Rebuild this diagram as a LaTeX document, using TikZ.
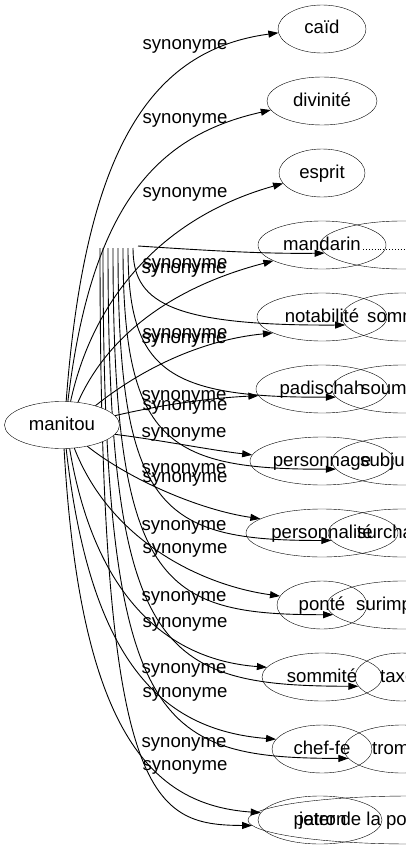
\documentclass[tikz,border=0pt]{standalone}
\usepackage{fontspec}
\setmainfont{Liberation Sans}
\usetikzlibrary{arrows.meta,shapes.geometric}
\begin{document}
\begin{tikzpicture}[x=1pt, y=-1pt, >={Triangle[length=10pt, width=7pt]},
    word/.style={draw, ellipse, minimum height=48pt, inner sep=0pt, text height=13pt, text depth=3pt, font=\fontsize{18.6}{20}\selectfont},
    lbl/.style={inner sep=0pt, text height=13pt, text depth=3pt, font=\fontsize{18.6}{20}\selectfont},
    link/.style={->, line width=0.9pt}]
    \useasboundingbox (0,0) rectangle (406,851);
    \clip (0,0) rectangle (406,851);
    \coordinate (f0) at (138,246);
    \coordinate (f1) at (133,248);
    \coordinate (f2) at (128,248);
    \coordinate (f3) at (123,248);
    \coordinate (f4) at (118,248);
    \coordinate (f5) at (113,248);
    \coordinate (f6) at (108,248);
    \coordinate (f7) at (103,248);
    \coordinate (f8) at (100,248);
    \node[word, minimum width=164pt] (b0) at (402,245) {};
    \node[word, minimum width=120pt] (b1) at (402,317) {};
    \node[word, minimum width=140pt] (b2) at (402,389) {};
    \node[word, minimum width=140pt] (b3) at (402,461) {};
    \node[word, minimum width=148pt] (b4) at (402,533) {};
    \node[word, minimum width=150pt] (b5) at (402,605) {};
    \node[word, minimum width=94pt] (b6) at (402,677) {};
    \node[word, minimum width=116pt] (b7) at (402,749) {};
    \node[word, minimum width=324pt] (b8) at (410,820) {};
    \draw[dotted, line width=0.9pt] (363,249) -- (406,249);
    \node[lbl, anchor=west] (t1) at (367,317) {somm};
    \node[lbl, anchor=west] (t2) at (361,389) {soum};
    \node[lbl, anchor=west] (t3) at (360,461) {subju};
    \node[lbl, anchor=west] (t4) at (357,533) {surcha};
    \node[lbl, anchor=west] (t5) at (356,605) {surimp};
    \node[lbl, anchor=west] (t6) at (380,677) {taxe};
    \node[lbl, anchor=west] (t7) at (372,749) {tromp};
    \node[lbl, anchor=west] (t8) at (299,820) {jeter de la po};
    \draw[link] (f0) .. controls (200,250) and (260,254) .. (b0.186);
    \draw[link] (f1) .. controls (133,300) and (165,326) .. (b1.188);
    \draw[link] (f2) .. controls (128,370) and (165,398) .. (b2.187);
    \draw[link] (f3) .. controls (123,440) and (165,470) .. (b3.187);
    \draw[link] (f4) .. controls (118,510) and (160,541) .. (b4.186);
    \draw[link] (f5) .. controls (113,585) and (160,615) .. (b5.188);
    \draw[link] (f6) .. controls (108,655) and (160,686) .. (b6.192);
    \draw[link] (f7) .. controls (103,728) and (155,758) .. (b7.190);
    \draw[link] (f8) .. controls (100,800) and (150,825) .. (b8.182);
    \node[word, fill=white, minimum width=115pt, minimum height=47pt] (man) at (62,425) {manitou};
    \node[word, minimum width=88pt] (caid) at (322,29) {caïd};
    \node[word, minimum width=110pt] (divin) at (322,101) {divinité};
    \node[word, minimum width=86pt] (esprit) at (322,173) {esprit};
    \node[word, minimum width=128pt] (mand) at (322,245) {mandarin};
    \node[word, minimum width=130pt] (notab) at (322,317) {notabilité};
    \node[word, minimum width=132pt] (padis) at (322,389) {padischah};
    \node[word, minimum width=144pt] (pnage) at (322,461) {personnage};
    \node[word, minimum width=152pt] (pnalite) at (322,533) {personnalité};
    \node[word, minimum width=90pt] (ponte) at (322,605) {ponté};
    \node[word, minimum width=120pt] (sommite) at (322,677) {sommité};
    \node[word, minimum width=100pt] (chef) at (322,749) {chef-fe};
    \node[word, minimum width=124pt] (patron) at (320,820) {patron};
    \draw[link] (man.80) .. controls (85,150) and (150,50) .. (caid.185);
    \draw[link] (man.76) .. controls (92,200) and (160,135) .. (divin.190);
    \draw[link] (man.70) .. controls (95,290) and (170,215) .. (esprit.195);
    \draw[link] (man.55) .. controls (110,330) and (180,285) .. (mand.198);
    \draw[link] (man.30) .. controls (140,370) and (200,340) .. (notab.198);
    \draw[link] (man.10) .. controls (160,405) and (210,398) .. (padis.186);
    \draw[link] (man.-10) .. controls (160,440) and (210,450) .. (pnage.175);
    \draw[link] (man.-40) .. controls (130,480) and (200,510) .. (pnalite.167);
    \draw[link] (man.-62) .. controls (110,540) and (200,585) .. (ponte.168);
    \draw[link] (man.-72) .. controls (95,600) and (170,660) .. (sommite.170);
    \draw[link] (man.-80) .. controls (90,660) and (160,730) .. (chef.168);
    \draw[link] (man.-85) .. controls (80,730) and (150,805) .. (patron.173);
    \node[lbl] (sa1) at (185,44) {synonyme};
    \node[lbl] (sa2) at (185,118) {synonyme};
    \node[lbl] (sa3) at (185,192) {synonyme};
    \node[lbl] (sa4) at (185,263) {synonyme};
    \node[lbl] (sa5) at (185,333) {synonyme};
    \node[lbl] (sa6) at (185,405) {synonyme};
    \node[lbl] (sa7) at (185,477) {synonyme};
    \node[lbl] (sa8) at (185,548) {synonyme};
    \node[lbl] (sa9) at (185,622) {synonyme};
    \node[lbl] (sa10) at (185,692) {synonyme};
    \node[lbl] (sa11) at (185,765) {synonyme};
    \node[lbl] (sb0) at (184,268) {synonyme};
    \node[lbl] (sb1) at (184,338) {synonyme};
    \node[lbl] (sb2) at (184,395) {synonyme};
    \node[lbl] (sb3) at (184,432) {synonyme};
    \node[lbl] (sb4) at (184,468) {synonyme};
    \node[lbl] (sb5) at (184,525) {synonyme};
    \node[lbl] (sb6) at (184,596) {synonyme};
    \node[lbl] (sb7) at (184,668) {synonyme};
    \node[lbl] (sb8) at (184,742) {synonyme};
\end{tikzpicture}
\end{document}
